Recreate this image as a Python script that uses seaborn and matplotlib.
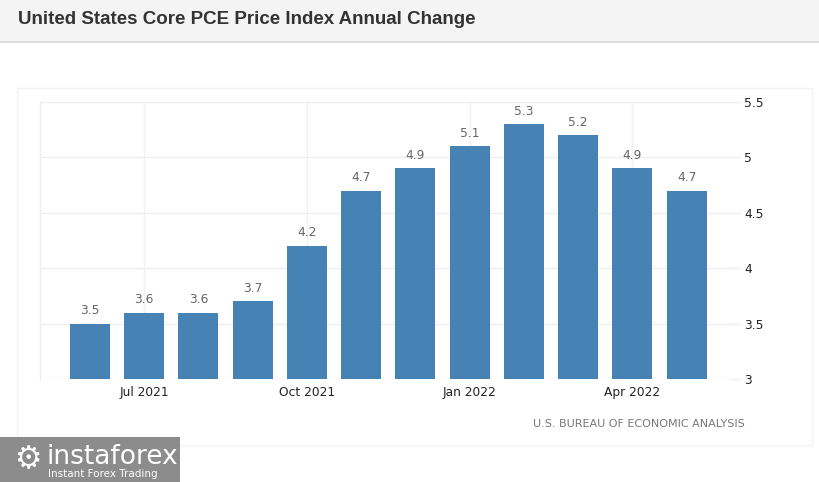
import matplotlib
matplotlib.use("Agg")
import matplotlib.pyplot as plt
from matplotlib.patches import Rectangle
import seaborn as sns
import pandas as pd

months = ["Jun 2021", "Jul 2021", "Aug 2021", "Sep 2021", "Oct 2021", "Nov 2021",
          "Dec 2021", "Jan 2022", "Feb 2022", "Mar 2022", "Apr 2022", "May 2022"]
values = [3.5, 3.6, 3.6, 3.7, 4.2, 4.7, 4.9, 5.1, 5.3, 5.2, 4.9, 4.7]
tick_labels = ["Jul 2021", "Oct 2021", "Jan 2022", "Apr 2022"]
y_ticks = [3, 3.5, 4, 4.5, 5, 5.5]

df = pd.DataFrame({"month": months, "value": values})

sns.set_theme(style="white")
plt.rcParams["font.family"] = ["DejaVu Sans"]

W, H = 820, 482
fig = plt.figure(figsize=(W / 100, H / 100), dpi=100)
fig.patch.set_facecolor("white")

# title band
fig.patches.append(Rectangle((0, 1 - 42 / H), 1, 42 / H, transform=fig.transFigure,
                             facecolor="#f4f4f4", edgecolor="none", zorder=0))
fig.add_artist(plt.Line2D([0, 1], [1 - 42 / H, 1 - 42 / H], transform=fig.transFigure,
                          color="#d8d8d8", lw=1.2))
fig.text(18 / W, 1 - 20 / H, "United States Core PCE Price Index Annual Change",
         family="Liberation Sans", fontweight="bold", fontsize=13.5, color="#333333",
         va="center", ha="left")

# card outline
fig.patches.append(Rectangle((17 / W, 1 - 445 / H), (812 - 17) / W, (445 - 88) / H,
                             transform=fig.transFigure, facecolor="none",
                             edgecolor="#f3f3f3", lw=1, zorder=0))

ax = fig.add_axes([40 / W, 1 - 379 / H, (730 - 40) / W, (379 - 102) / H])
ax.set_facecolor("none")

sns.barplot(data=df, x="month", y="value", order=months, color="#4682b4",
            saturation=1, width=0.74, linewidth=0, ax=ax, zorder=3)

for i, v in enumerate(values):
    ax.text(i, v + 0.06, f"{v:.1f}", ha="center", va="bottom", fontsize=8.8,
            color="#666666", zorder=4)

ax.set_ylim(3, 5.5)
ax.set_xlim(-0.92, 11.8)
ax.set_yticks(y_ticks)
ax.set_yticklabels([f"{t:g}" for t in y_ticks])
ax.yaxis.tick_right()
ax.tick_params(axis="y", length=8, width=1, color="#eeeeee", labelsize=8.8,
               labelcolor="#222222", pad=2, right=True, left=False)
ax.set_xticks([months.index(t) for t in tick_labels])
ax.set_xticklabels(tick_labels)
ax.tick_params(axis="x", length=0, labelsize=8.8, labelcolor="#222222", pad=5)
ax.set_xlabel("")
ax.set_ylabel("")

ax.grid(True, axis="y", color="#eeeeee", lw=1, zorder=0)
ax.grid(True, axis="x", color="#f0f0f0", lw=1, zorder=0)
for s in ["top", "right", "bottom"]:
    ax.spines[s].set_visible(False)
ax.spines["left"].set_color("#eeeeee")
ax.spines["left"].set_linewidth(1)

fig.text(745 / W, 1 - 424 / H, "U.S. BUREAU OF ECONOMIC ANALYSIS", ha="right",
         va="center", fontsize=8, color="#777777")

# logo
fig.patches.append(Rectangle((0, 0), 180 / W, 45 / H, transform=fig.transFigure,
                             facecolor="#8c8c8c", edgecolor="none", zorder=1))
fig.text(28 / W, 1 - 460 / H, "\u2699", ha="center", va="center", fontsize=22,
         color="white", zorder=2)
fig.text(47 / W, 1 - 457 / H, "instaforex", ha="left", va="center", fontsize=19,
         color="white", zorder=2)
fig.text(48 / W, 1 - 474 / H, "Instant Forex Trading", ha="left", va="center",
         fontsize=7.5, color="white", zorder=2)

fig.savefig("out.png", dpi=100, facecolor=fig.get_facecolor())
